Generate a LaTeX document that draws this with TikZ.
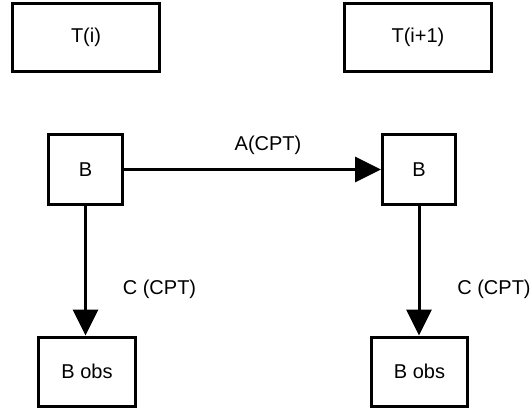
\documentclass[tikz,border=0pt]{standalone}
\usepackage{fontspec}
\setmainfont{Liberation Sans}
\usetikzlibrary{arrows.meta}
\begin{document}
\begin{tikzpicture}[x=1pt,y=-1pt,
  box/.style={draw=black,line width=3pt,fill=white,inner sep=0pt,font=\fontsize{20}{24}\selectfont},
  lbl/.style={font=\fontsize{20}{24}\selectfont,inner sep=0pt},
  link/.style={line width=3pt,-{Triangle[length=26pt,width=25pt]}}]
  \useasboundingbox (0,0) rectangle (532,414);
  % time slices
  \node[box,minimum width=147pt,minimum height=68pt] (ti)  at (86,37.5)  {T(i)};
  \node[box,minimum width=147pt,minimum height=68pt] (ti1) at (418,37.5) {T(i+1)};
  % hidden belief states
  \node[box,minimum width=74pt,minimum height=70pt] (b1) at (85.5,169.5) {B};
  \node[box,minimum width=73pt,minimum height=70pt] (b2) at (419,169.5) {B};
  % observations
  \node[box,minimum width=97pt,minimum height=69pt] (o1) at (87,371.5) {B obs};
  \node[box,minimum width=96pt,minimum height=69pt] (o2) at (419.5,371.5) {B obs};
  % transition and emission
  \draw[link] (b1) -- (b2);
  \draw[link] (b1.south) -- (b1.south |- o1.north);
  \draw[link] (b2) -- (b2 |- o2.north);
  \node[lbl] (la) at (268,145) {A(CPT)};
  \node[lbl] (lc1) at (159.5,289) {C (CPT)};
  \node[lbl] (lc2) at (494,289) {C (CPT)};
\end{tikzpicture}
\end{document}
